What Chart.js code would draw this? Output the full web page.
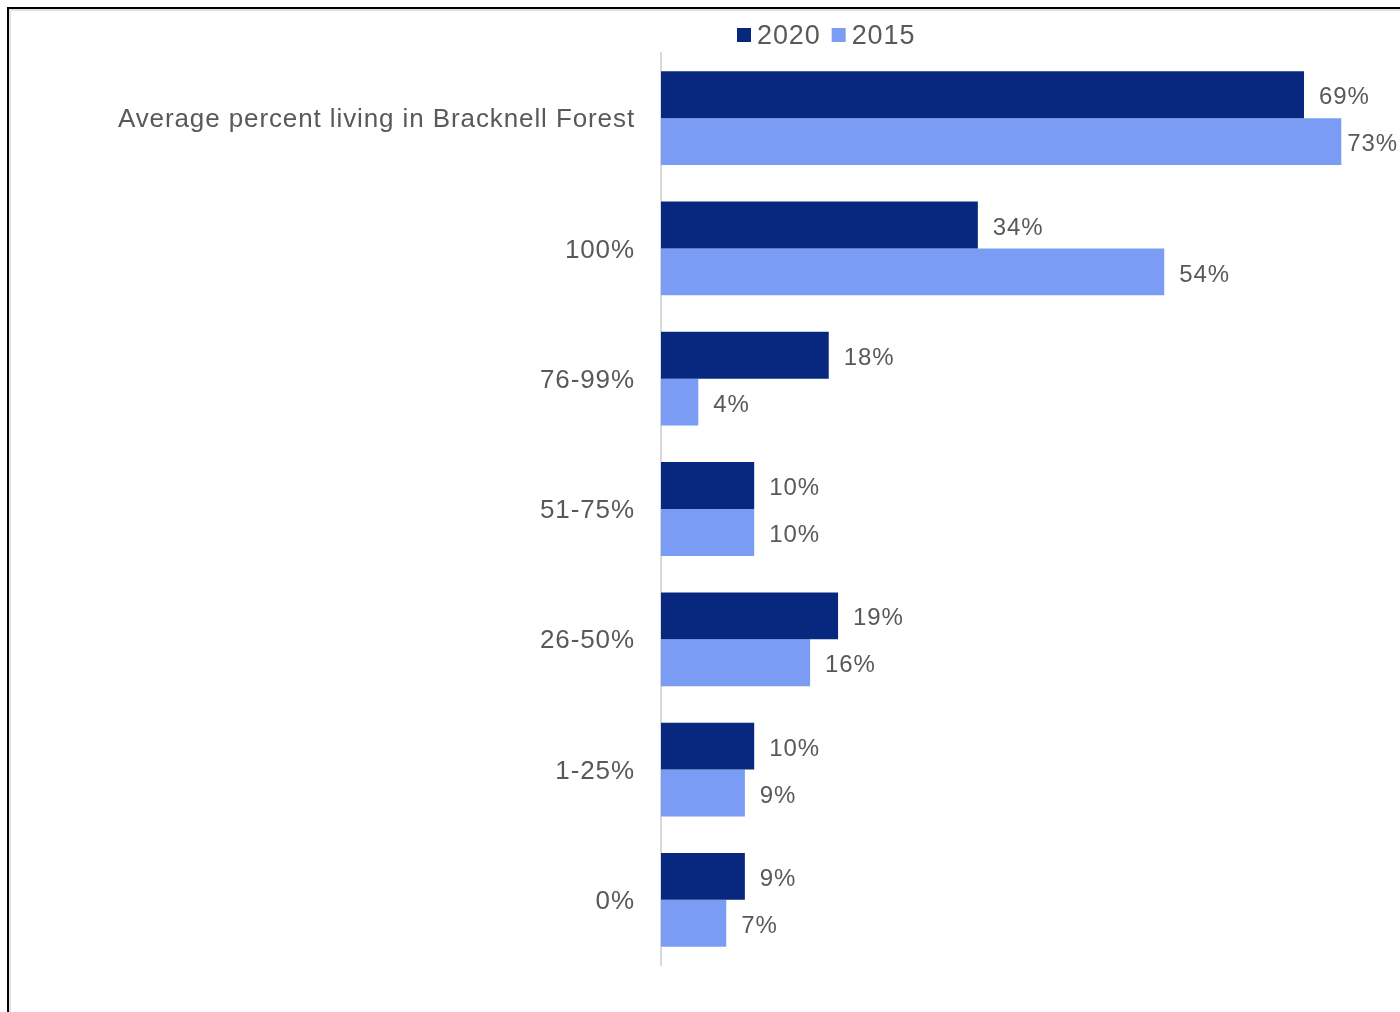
<!DOCTYPE html>
<html>
<head>
<meta charset="utf-8">
<script src="https://cdn.jsdelivr.net/npm/chart.js@4.4.1/dist/chart.umd.min.js"></script>
<style>
  html, body { margin: 0; padding: 0; background: #fff; overflow: hidden; }
  #wrap { position: relative; width: 1400px; height: 1012px; }
  #chart { position: absolute; left: 0; top: 0; }
  .frame { position: absolute; left: 7px; top: 7px; right: 0; bottom: 0;
           border-top: 2px solid #000; border-left: 2px solid #000; pointer-events: none; }
  .frame-inner { position: absolute; left: 9px; top: 9px; right: 0; bottom: 0;
                 border-top: 2px solid #e2e2e2; border-left: 2px solid #e2e2e2; pointer-events: none; }
</style>
</head>
<body>
<div id="wrap">
  <canvas id="chart" width="1400" height="1012"></canvas>
  <div class="frame"></div>
  <div class="frame-inner"></div>
</div>
<script>
const categories = [
  'Average percent living in Bracknell Forest',
  '100%',
  '76-99%',
  '51-75%',
  '26-50%',
  '1-25%',
  '0%'
];
const seriesNames = ['2020', '2015'];
const values2020 = [69, 34, 18, 10, 19, 10, 9];
const values2015 = [73, 54, 4, 10, 16, 9, 7];
const seriesColors = ['#08287f', '#7a9cf4'];

const FONT = '"Liberation Sans", Arial, sans-serif';
const TEXT = '#595959';

// slightly wider text spacing for everything drawn on the canvas
const spacing = {
  id: 'spacing',
  beforeDraw(chart) {
    chart.ctx.letterSpacing = '0.9px';
  }
};

// value labels just past the end of each bar
const barLabels = {
  id: 'barLabels',
  afterDatasetsDraw(chart) {
    const ctx = chart.ctx;
    ctx.save();
    ctx.font = '24px ' + FONT;
    ctx.fillStyle = TEXT;
    ctx.textBaseline = 'middle';
    ctx.textAlign = 'left';
    chart.data.datasets.forEach((ds, i) => {
      const meta = chart.getDatasetMeta(i);
      meta.data.forEach((bar, j) => {
        const txt = ds.data[j] + '%';
        const w = ctx.measureText(txt).width;
        let x = bar.x + 15;
        if (x + w > chart.width - 2) x = chart.width - 2 - w;
        ctx.fillText(txt, x, bar.y + 3);
      });
    });
    ctx.restore();
  }
};

// small square legend above the bars
const squareLegend = {
  id: 'squareLegend',
  afterDraw(chart) {
    const ctx = chart.ctx;
    ctx.save();
    ctx.font = '27px ' + FONT;
    ctx.textBaseline = 'middle';
    let x = 737;
    const y = 35;
    chart.data.datasets.forEach(ds => {
      ctx.fillStyle = ds.backgroundColor;
      ctx.fillRect(x, y - 7, 14, 14);
      x += 20;
      ctx.fillStyle = TEXT;
      ctx.fillText(ds.label, x, y + 2);
      x += ctx.measureText(ds.label).width + 11;
    });
    ctx.restore();
  }
};

new Chart(document.getElementById('chart'), {
  type: 'bar',
  data: {
    labels: categories,
    datasets: [
      { label: seriesNames[0], data: values2020, backgroundColor: seriesColors[0] },
      { label: seriesNames[1], data: values2015, backgroundColor: seriesColors[1] }
    ]
  },
  options: {
    indexAxis: 'y',
    responsive: false,
    animation: false,
    categoryPercentage: 0.72,
    barPercentage: 1.0,
    layout: { padding: { top: 53, bottom: 47, left: 0, right: 0 } },
    scales: {
      x: {
        display: false,
        min: 0,
        max: 79.3
      },
      y: {
        grid: { display: false, drawTicks: false },
        border: { display: true, color: '#d9d9d9', width: 2 },
        ticks: {
          padding: 26,
          labelOffset: 2,
          color: TEXT,
          font: { family: FONT, size: 26 }
        },
        afterFit(scale) { scale.width = 661; }
      }
    },
    plugins: {
      legend: { display: false },
      tooltip: { enabled: false }
    }
  },
  plugins: [spacing, barLabels, squareLegend]
});
</script>
</body>
</html>
